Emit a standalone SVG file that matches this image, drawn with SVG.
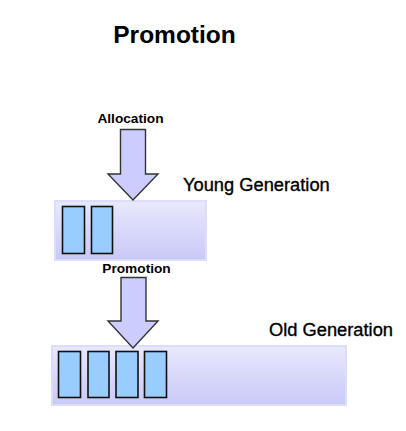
<svg xmlns="http://www.w3.org/2000/svg" width="406" height="431" viewBox="0 0 406 431">
<defs>
<linearGradient id="gen" x1="0" y1="0" x2="0" y2="1">
<stop offset="0" stop-color="#e8e8fd"/>
<stop offset="1" stop-color="#c9c9f8"/>
</linearGradient>
</defs>
<style>
.t{font-family:"Liberation Sans",Arial,sans-serif;fill:#000}
.b{font-weight:bold}
.lab{stroke:#000;stroke-width:0.35}
.gen{fill:url(#gen);stroke:#dcdcfb;stroke-width:2}
.obj{fill:#99ccff;stroke:#111;stroke-width:1.6}
.arr{fill:#ccccff;stroke:#333;stroke-width:1.4;stroke-linejoin:miter}
</style>
<rect width="406" height="431" fill="#fff"/>
<text class="t b" x="174.5" y="43" font-size="24.5" text-anchor="middle">Promotion</text>
<g id="young">
<rect class="gen" x="55" y="201" width="151" height="59"/>
<rect class="obj" x="62.5" y="206.5" width="22" height="47"/>
<rect class="obj" x="91.5" y="206.5" width="21" height="47"/>
<text class="t lab" x="183" y="191" font-size="18.3">Young Generation</text>
</g>
<g id="old">
<rect class="gen" x="52" y="346" width="294" height="59"/>
<rect class="obj" x="58.5" y="351.5" width="22" height="46"/>
<rect class="obj" x="88" y="351.5" width="21" height="46"/>
<rect class="obj" x="116" y="351.5" width="22" height="46"/>
<rect class="obj" x="144.5" y="351.5" width="22" height="46"/>
<text class="t lab" x="269" y="336" font-size="18.3">Old Generation</text>
</g>
<g id="connectors">
<g id="allocation">
<polygon class="arr" points="120.5,129.5 145.5,129.5 145.5,174 158,174 133,200 108,174 120.5,174"/>
<text class="t b" x="130.5" y="123" font-size="13.7" text-anchor="middle">Allocation</text>
</g>
<g id="promotion">
<polygon class="arr" points="121,277.5 146,277.5 146,321 158,321 133,348 108,321 121,321"/>
<text class="t b" x="136.5" y="273" font-size="13.7" text-anchor="middle">Promotion</text>
</g>
</g>
</svg>
